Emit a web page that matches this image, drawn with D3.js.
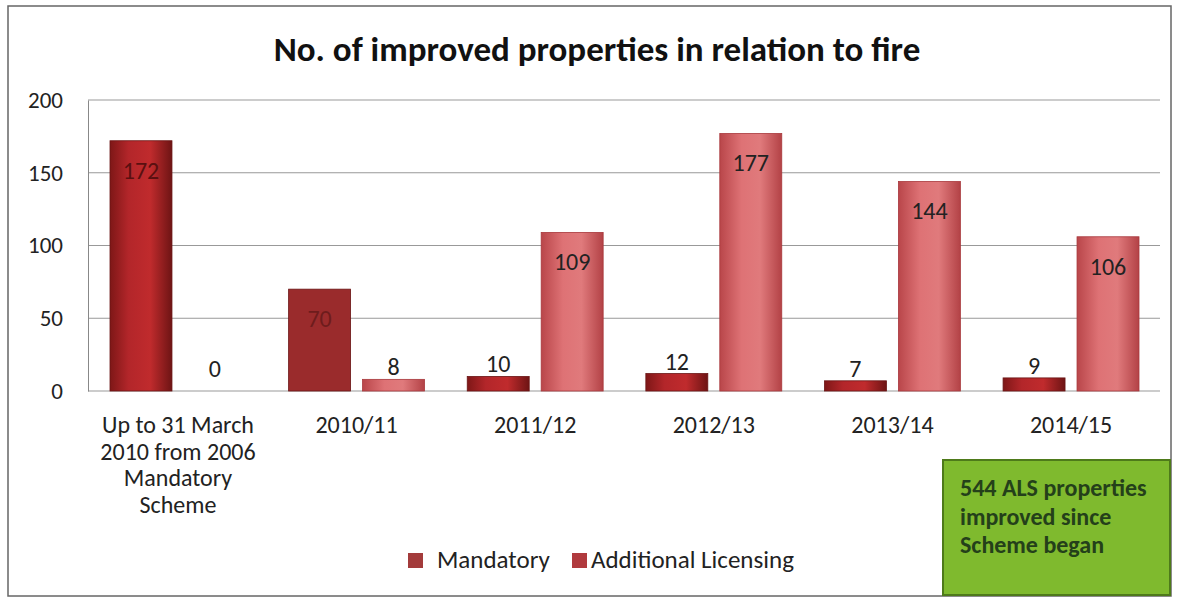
<!DOCTYPE html>
<html>
<head>
<meta charset="utf-8">
<script src="https://cdn.jsdelivr.net/npm/d3@7"></script>
<style>
  body { margin: 0; background: #fff; }
  text { font-family: Carlito, "Open Sans", "DejaVu Sans", sans-serif; }
</style>
</head>
<body>
<svg id="chart"></svg>
<script>
// chart data
const categories = ["Up to 31 March|2010  from 2006|Mandatory|Scheme", "2010/11", "2011/12", "2012/13", "2013/14", "2014/15"];
const mandatory = [172, 70, 10, 12, 7, 9];
const additional = [0, 8, 109, 177, 144, 106];
const yTicks = [0, 50, 100, 150, 200];
const seriesNames = ["Mandatory", "Additional Licensing"];

const W = 1181, H = 601;
const margin = { top: 100, right: 21, bottom: 210, left: 88 };
const width = W - margin.left - margin.right;
const height = H - margin.top - margin.bottom;

const svg = d3.select("#chart").attr("width", W).attr("height", H);

// outer frame
svg.append("rect")
  .attr("x", 8).attr("y", 6).attr("width", 1163).attr("height", 590)
  .attr("fill", "none").attr("stroke", "#666").attr("stroke-width", 1.5);

const defs = svg.append("defs");
function grad(id, stops) {
  const g = defs.append("linearGradient").attr("id", id)
    .attr("x1", "0%").attr("x2", "100%").attr("y1", "0%").attr("y2", "0%");
  stops.forEach(s => g.append("stop").attr("offset", s[0]).attr("stop-color", s[1]));
}
grad("gMand", [["0%", "#7e1717"], ["30%", "#b3262a"], ["65%", "#c02b2d"], ["100%", "#6e1414"]]);
grad("gAdd", [["0%", "#b9464a"], ["35%", "#de7275"], ["65%", "#e07a7c"], ["100%", "#b34246"]]);

const g = svg.append("g").attr("transform", `translate(${margin.left},${margin.top})`);

const x0 = d3.scaleBand().domain(d3.range(categories.length)).range([22, 1051]).paddingInner(0.239).paddingOuter(0);
const x1 = d3.scaleBand().domain([0, 1]).range([0, x0.bandwidth()]).paddingInner(0.162);
const y = d3.scaleLinear().domain([0, 200]).range([height, 0]);

// gridlines
g.append("g")
  .selectAll("line").data(yTicks).enter().append("line")
  .attr("x1", 0).attr("x2", width)
  .attr("y1", d => y(d)).attr("y2", d => y(d))
  .attr("stroke", "#999").attr("stroke-width", 1);

// y axis
const yAxis = g.append("g")
  .call(d3.axisLeft(y).tickValues(yTicks).tickSize(0).tickPadding(25));
yAxis.select(".domain").attr("stroke", "#888");
yAxis.selectAll("text").style("font-size", "23px").attr("fill", "#222");

// bars
const groups = g.selectAll(".grp").data(categories).enter().append("g")
  .attr("transform", (d, i) => `translate(${x0(i)},0)`);

groups.each(function(d, i) {
  const grp = d3.select(this);
  const vals = [mandatory[i], additional[i]];
  vals.forEach((v, s) => {
    const fill = s === 0 ? (i === 1 ? "#9a2b2c" : "url(#gMand)") : "url(#gAdd)";
    if (v > 0) {
      grp.append("rect")
        .attr("x", x1(s)).attr("y", y(v))
        .attr("width", x1.bandwidth()).attr("height", y(0) - y(v))
        .attr("fill", fill)
        .attr("stroke", s === 0 ? "#6a1515" : "#a8383c").attr("stroke-width", 0.8);
    }
    const inside = v > 50;
    grp.append("text")
      .attr("x", x1(s) + x1.bandwidth() / 2)
      .attr("y", inside ? y(v) + 38 : Math.min(y(v) - 4, y(0) - 14))
      .attr("text-anchor", "middle")
      .style("font-size", "24px")
      .attr("fill", s === 0 && inside ? (i === 1 ? "#6e1c1c" : "#5a1010") : "#222")
      .text(v);
  });
});

// category labels
groups.append("text")
  .attr("y", height + 42)
  .attr("text-anchor", "middle")
  .attr("x", x0.bandwidth() / 2)
  .style("font-size", "24px")
  .attr("fill", "#222")
  .selectAll("tspan").data(d => d.split("|")).enter().append("tspan")
  .attr("x", x0.bandwidth() / 2)
  .attr("dy", (d, i) => i === 0 ? 0 : 26.5)
  .text(d => d);

// title
svg.append("text")
  .attr("x", 597).attr("y", 61)
  .attr("text-anchor", "middle")
  .style("font-size", "35px").style("font-weight", "bold")
  .attr("fill", "#111")
  .text("No. of improved properties in relation to fire");

// legend
const legend = svg.append("g").attr("transform", "translate(408,552)");
const legX = [0, 164];
seriesNames.forEach((n, i) => {
  legend.append("rect").attr("x", legX[i]).attr("y", 1).attr("width", 15).attr("height", 15)
    .attr("fill", i === 0 ? "#a33b3b" : "#b03a3e");
  legend.append("text").attr("x", legX[i] + (i === 0 ? 29 : 19)).attr("y", 16)
    .style("font-size", "25px").attr("fill", "#222").text(n);
});

// note box
const note = svg.append("g").attr("transform", "translate(943,460)");
note.append("rect").attr("width", 227).attr("height", 135)
  .attr("fill", "#7fba2e").attr("stroke", "#4e7a1a").attr("stroke-width", 2);
note.append("text").attr("x", 17).attr("y", 36)
  .style("font-size", "24px").style("font-weight", "600").attr("fill", "#24401a")
  .selectAll("tspan").data(["544 ALS properties", "improved since", "Scheme began"]).enter().append("tspan")
  .attr("x", 17).attr("dy", (d, i) => i === 0 ? 0 : 28.5).text(d => d);
</script>
</body>
</html>
